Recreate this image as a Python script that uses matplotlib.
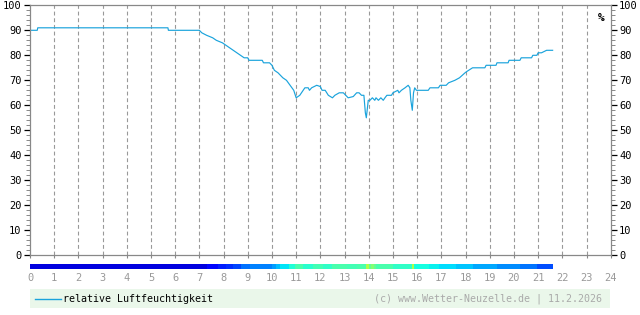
import matplotlib
matplotlib.use("Agg")
import matplotlib.pyplot as plt
import matplotlib.ticker as ticker
from matplotlib.patches import Rectangle

plt.rcParams["font.family"] = "DejaVu Sans Mono"

# relative humidity (%) over the day, hour of day
hum_hours = [0.0, 0.3, 0.32, 5.7, 5.72, 7.0, 7.1, 7.3, 7.55, 7.7, 7.95, 8.1, 8.25,
             8.4, 8.55, 8.7, 8.85, 9.0, 9.05, 9.6, 9.65, 9.9, 10.0, 10.1, 10.25,
             10.45, 10.6, 10.75, 10.9, 11.0, 11.15, 11.36, 11.5, 11.55, 11.64,
             11.85, 12.0, 12.07, 12.2, 12.33, 12.5, 12.6, 12.78, 12.95, 13.15,
             13.36, 13.5, 13.6, 13.7, 13.8, 13.86, 13.9, 13.98, 14.05, 14.15,
             14.25, 14.3, 14.4, 14.5, 14.6, 14.67, 14.75, 14.94, 15.0, 15.2,
             15.25, 15.35, 15.5, 15.63, 15.7, 15.74, 15.8, 15.85, 15.9, 15.97,
             16.46, 16.53, 16.88, 16.95, 17.2, 17.3, 17.56, 17.75, 17.98, 18.05,
             18.29, 18.8, 18.85, 19.26, 19.3, 19.76, 19.8, 20.25, 20.3, 20.73,
             20.78, 20.95, 21.0, 21.14, 21.35, 21.6]
hum_values = [90, 90, 91, 91, 90, 90, 89, 88, 87, 86, 85, 84, 83,
              82, 81, 80, 79, 79, 78, 78, 77, 77, 76, 74, 73,
              71, 70, 68, 66, 63, 64, 67, 67, 66, 67,
              68, 67.5, 66, 66, 64, 63, 64, 65, 65, 63,
              63.5, 65, 65, 64, 64, 57, 55, 62, 62, 63,
              62, 63, 62, 63, 62, 63, 64, 64, 65, 66,
              65, 66, 67, 68, 67, 62, 58, 65, 67, 66,
              66, 67, 67, 68, 68, 69, 70, 71, 73, 73.5,
              75, 75, 76, 76, 77, 77, 78, 78, 79, 79,
              80, 80, 81, 81, 82, 82]

# temperature band below the axis (start hour of each segment, deg C)
temp_start = [0.0, 7.3, 7.77, 8.1, 8.4, 8.7, 9.1, 10.0, 10.15, 10.35, 10.7, 10.95,
              11.3, 11.7, 12.1, 12.5, 13.1, 13.5, 13.9, 14.0, 14.1, 14.2, 14.3,
              15.0, 15.8, 15.87, 16.5, 16.9, 17.6, 18.3, 19.3, 20.25, 20.95]
temp_values = [-8.3, -7.4, -6.9, -6.6, -6.1, -5.3, -5.0, -4.4, -3.8, -3.0, -2.2, -1.2,
               -2.0, -1.4, -1.8, -1.2, -1.4, -1.2, 1.2, -0.6, 0.2, -0.6, -1.2,
               -1.8, 1.2, -2.5, -2.8, -3.2, -3.6, -4.2, -4.7, -5.2, -6.0]
temp_end = 21.6

hour_labels = [str(h) for h in range(25)]

fig = plt.figure(figsize=(6.4, 3.15), dpi=100)
ax = fig.add_axes([30 / 640, 1 - 255.3 / 315, 580.7 / 640, 250 / 315])

grey = "#888888"

ax.plot(hum_hours, hum_values, color="#1aa3dc", linewidth=0.85)

ax.set_xlim(0, 24)
ax.set_ylim(0, 100)

# hourly dashed grid
for h in range(1, 24):
    ax.axvline(h, color="#999999", linewidth=0.8, linestyle=(0, (3.5, 2.5)), zorder=0)

for s in ax.spines.values():
    s.set_color(grey)
    s.set_linewidth(0.9)

ax.set_xticks(range(25))
ax.set_xticklabels(hour_labels)
ax.tick_params(axis="x", direction="out", length=2.5, width=0.8, color=grey,
               labelcolor="#999999", labelsize=7.5, pad=10)

ax.yaxis.set_major_locator(ticker.MultipleLocator(10))
ax.yaxis.set_minor_locator(ticker.MultipleLocator(2))
ax.tick_params(axis="y", which="major", direction="out", length=4, width=0.9,
               color="black", labelsize=7.5, left=True, right=True,
               labelleft=True, labelright=True, pad=2)
ax.tick_params(axis="y", which="minor", direction="out", length=3, width=0.7,
               color=grey, left=True, right=True)

ax.text(23.62, 95, "%", ha="center", va="center", fontsize=8, fontweight="bold")

# temperature colour band
cmap = plt.get_cmap("jet")
ends = temp_start[1:] + [temp_end]
for x0, x1, t in zip(temp_start, ends, temp_values):
    c = cmap((t + 10) / 20)
    ax.add_patch(Rectangle((x0, -5.6), x1 - x0, 2.1, facecolor=c, edgecolor="none",
                           clip_on=False))

# legend box
fig.patches.append(Rectangle((30 / 640, 1 - 307.5 / 315), 580 / 640, 19 / 315,
                             transform=fig.transFigure, facecolor="#eaf7ea",
                             edgecolor="none"))
ly = 1 - 299 / 315
fig.lines.append(plt.Line2D([35 / 640, 60.5 / 640], [ly, ly], transform=fig.transFigure,
                            color="#1aa3dc", linewidth=1.0))
fig.text(63 / 640, ly, "relative Luftfeuchtigkeit", ha="left", va="center",
         fontsize=7.2, color="black")
fig.text(602.5 / 640, ly, "(c) www.Wetter-Neuzelle.de | 11.2.2026", ha="right",
         va="center", fontsize=7.2, color="#aaaaaa")

fig.savefig("out.png", dpi=100)
